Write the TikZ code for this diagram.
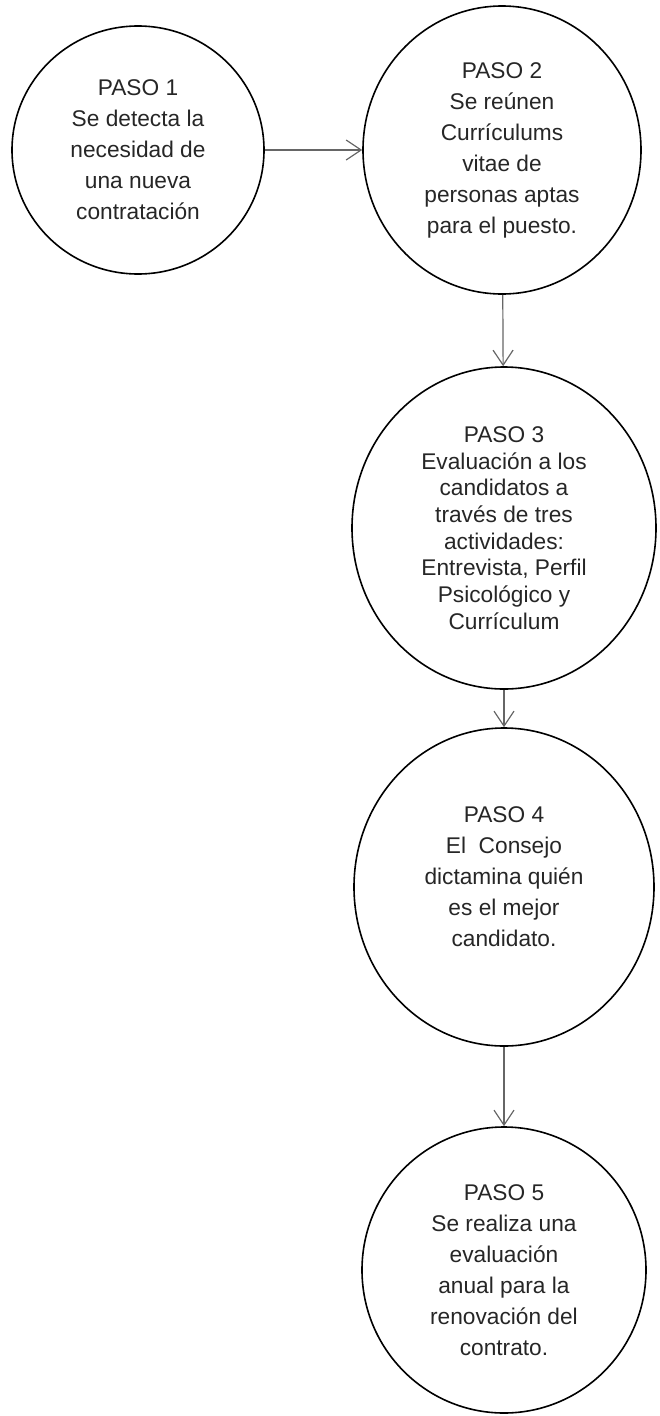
\documentclass[tikz,border=0pt]{standalone}
\usepackage{fontspec}
\setmainfont{Liberation Sans}
\usetikzlibrary{arrows.meta,shapes.geometric}
\tikzset{
  paso/.style={draw,ellipse,line width=1.6pt,inner sep=0pt,align=center,
    font=\fontsize{22.7}{31}\selectfont,text=black!85},
  flecha/.style={draw=black!60,line width=1.2pt,
    -{Straight Barb[length=15pt,width=20pt,line width=1.2pt]}}
}
\begin{document}
\begin{tikzpicture}[x=1pt,y=-1pt]
  \useasboundingbox (0,0) rectangle (659,1416);
  \node[paso,minimum width=252,minimum height=248] (P1) at (138,150)
    {PASO 1\\Se detecta la\\necesidad de\\una nueva\\contratación};
  \node[paso,minimum width=278,minimum height=288] (P2) at (502,150)
    {PASO 2\\Se reúnen\\Currículums\\vitae de\\personas aptas\\para el puesto.};
  \node[paso,minimum width=304,minimum height=322,
    font=\fontsize{22.7}{26.7}\selectfont] (P3) at (504,528)
    {PASO 3\\Evaluación a los\\candidatos a\\través de tres\\actividades:\\Entrevista, Perfil\\Psicológico y\\Currículum};
  \node[paso,minimum width=300,minimum height=318] (P4) at (504,887)
    {PASO 4\\El~ Consejo\\dictamina quién\\es el mejor\\candidato.\\[-11pt]};
  \node[paso,minimum width=284,minimum height=286] (P5) at (504,1270)
    {PASO 5\\Se realiza una\\evaluación\\anual para la\\renovación del\\contrato.};
  \draw[flecha] (P1) -- (P2);
  \draw[flecha] (P2) -- (P3);
  \draw[flecha] (P3) -- (P4);
  \draw[flecha] (P4) -- (P5);
\end{tikzpicture}
\end{document}
